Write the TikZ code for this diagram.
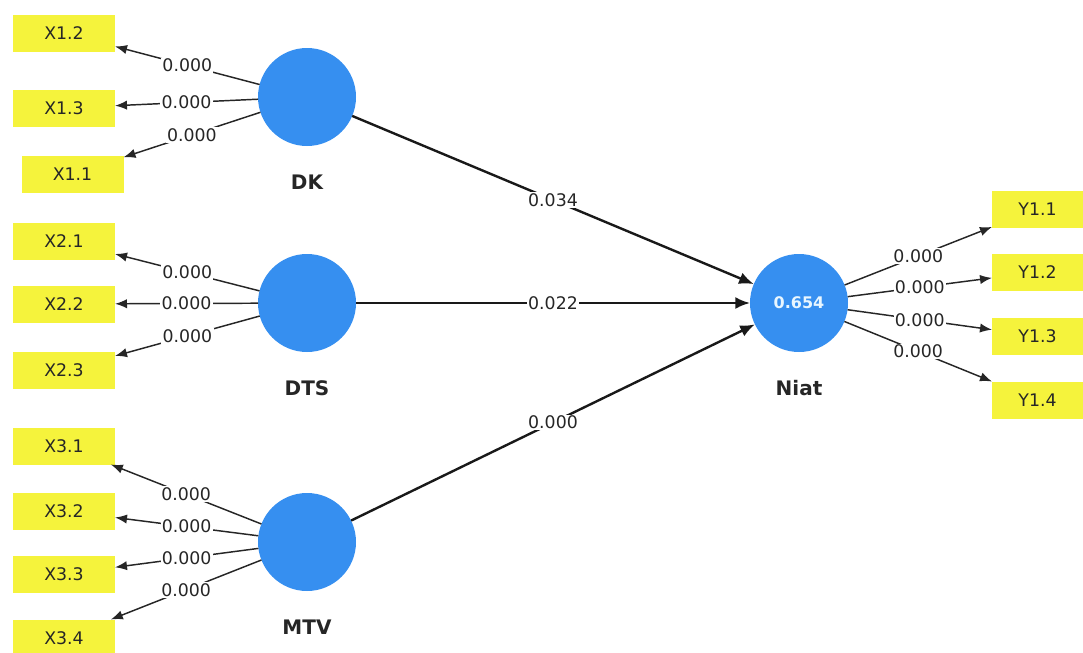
\documentclass[tikz,border=0pt]{standalone}
\usepackage{fontspec}
\setmainfont{DejaVu Sans}
\usetikzlibrary{arrows.meta}
\definecolor{lvblue}{RGB}{54,143,240}
\definecolor{indyellow}{RGB}{245,243,60}
\definecolor{lvtext}{RGB}{232,246,255}
\begin{document}
\begin{tikzpicture}[x=0.75pt,y=-0.75pt,
  latent/.style={circle,fill=lvblue,minimum size=73.5pt,inner sep=0pt,outer sep=0pt},
  ind/.style={fill=indyellow,minimum width=76.5pt,minimum height=27.75pt,inner sep=0pt,outer sep=0pt,font=\fontsize{13}{15}\selectfont,text=black!85},
  indR/.style={ind,minimum width=68.25pt},
  lvname/.style={font=\bfseries\fontsize{15}{17}\selectfont,text=black!85},
  r2/.style={font=\bfseries\fontsize{12}{14}\selectfont,text=lvtext},
  load/.style={draw=black!85,line width=1.1pt,-{Latex[length=9pt,width=7pt]}},
  struct/.style={draw=black!90,line width=1.8pt,-{Latex[length=11pt,width=9pt]}},
  coef/.style={fill=white,inner sep=1pt,font=\fontsize{13}{15}\selectfont,text=black!85}]
\useasboundingbox (0,0) rectangle (1083,653);
% latent variables
\node[latent] (DK) at (307,97) {};
\node[latent] (DTS) at (307,303) {};
\node[latent] (MTV) at (307,542) {};
\node[latent] (Niat) at (799,303) {};
\node[r2] (NiatR) at (Niat.center) {0.654};
\node[lvname] (DKl) at (307,182) {DK};
\node[lvname] (DTSl) at (307,388) {DTS};
\node[lvname] (MTVl) at (307,627) {MTV};
\node[lvname] (Niatl) at (799,388) {Niat};
% indicators
\node[ind] (X12) at (64,33) {X1.2};
\node[ind] (X13) at (64,108) {X1.3};
\node[ind] (X11) at (72.5,174) {X1.1};
\node[ind] (X21) at (64,241) {X2.1};
\node[ind] (X22) at (64,304) {X2.2};
\node[ind] (X23) at (64,370) {X2.3};
\node[ind] (X31) at (64,446) {X3.1};
\node[ind] (X32) at (64,511) {X3.2};
\node[ind] (X33) at (64,574) {X3.3};
\node[ind] (X34) at (64,638) {X3.4};
\node[indR] (Y11) at (1037.5,209) {Y1.1};
\node[indR] (Y12) at (1037.5,272) {Y1.2};
\node[indR] (Y13) at (1037.5,336) {Y1.3};
\node[indR] (Y14) at (1037.5,400) {Y1.4};
% outer loadings
\draw[load] (DK) -- node[coef]{0.000} (X12);
\draw[load] (DK) -- node[coef]{0.000} (X13);
\draw[load] (DK) -- node[coef]{0.000} (X11);
\draw[load] (DTS) -- node[coef]{0.000} (X21);
\draw[load] (DTS) -- node[coef]{0.000} (X22);
\draw[load] (DTS) -- node[coef]{0.000} (X23);
\draw[load] (MTV) -- node[coef]{0.000} (X31);
\draw[load] (MTV) -- node[coef]{0.000} (X32);
\draw[load] (MTV) -- node[coef]{0.000} (X33);
\draw[load] (MTV) -- node[coef]{0.000} (X34);
\draw[load] (Niat) -- node[coef]{0.000} (Y11);
\draw[load] (Niat) -- node[coef]{0.000} (Y12);
\draw[load] (Niat) -- node[coef]{0.000} (Y13);
\draw[load] (Niat) -- node[coef]{0.000} (Y14);
% structural paths
\draw[struct] (DK) -- node[coef]{0.034} (Niat);
\draw[struct] (DTS) -- node[coef]{0.022} (Niat);
\draw[struct] (MTV) -- node[coef]{0.000} (Niat);
\end{tikzpicture}
\end{document}
